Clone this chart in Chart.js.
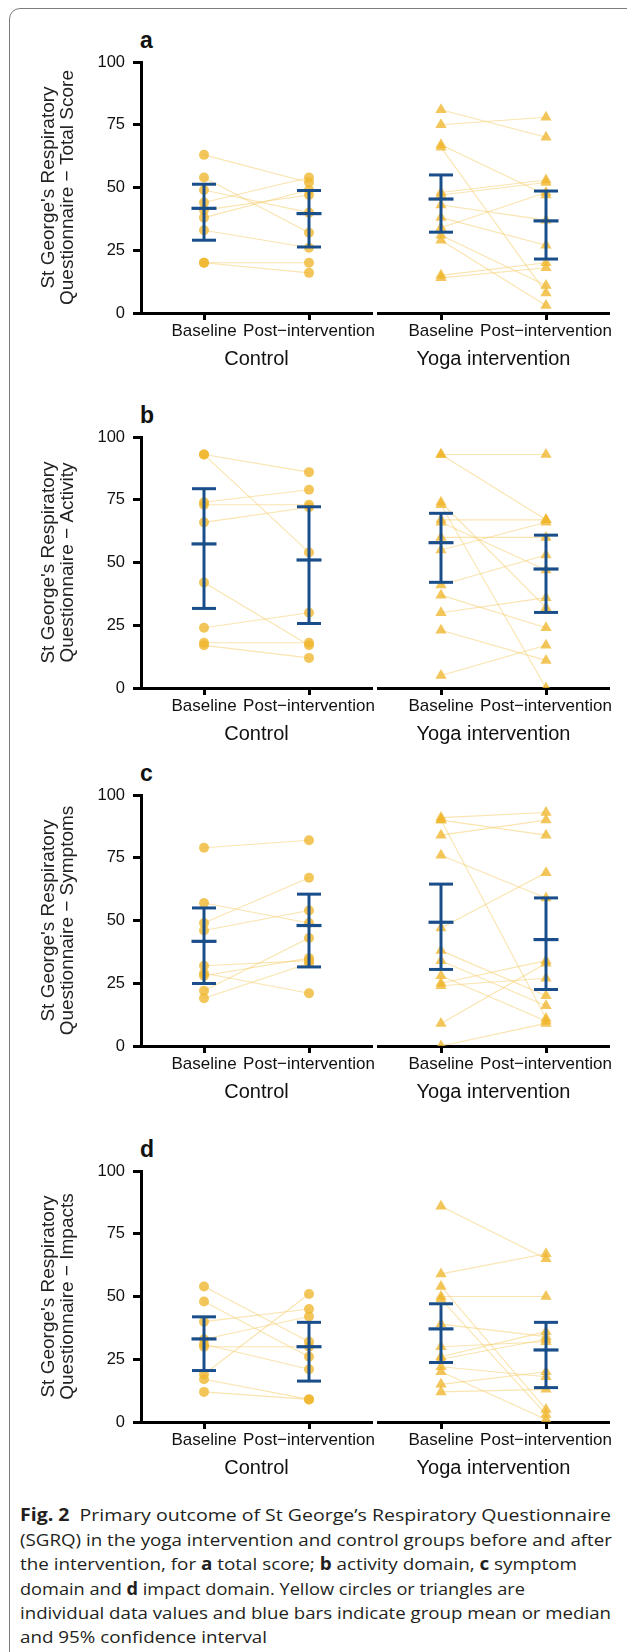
<!DOCTYPE html>
<html><head><meta charset="utf-8">
<script src="https://cdn.jsdelivr.net/npm/chart.js@4.4.0/dist/chart.umd.min.js"></script>
<style>
html,body{margin:0;padding:0;background:#fff;}
body{width:627px;height:1652px;position:relative;overflow:hidden;font-family:"Liberation Sans",Arial,sans-serif;}
#frame{position:absolute;left:9px;top:8px;width:660px;height:1690px;border:1.3px solid #7d7d7d;border-radius:11px;box-sizing:border-box;}
canvas.cv{position:absolute;left:0;}
.plab{position:absolute;left:140px;font:bold 23px/23px "Liberation Sans",Arial,sans-serif;color:#111;}
.cap{position:absolute;left:20px;white-space:nowrap;font-family:"Open Sans",sans-serif;font-size:17px;line-height:24px;color:#231f20;transform-origin:0 50%;}
.cap b{font-weight:700;}
</style></head><body>
<div id="frame"></div>
<div id="caption">
<div class="cap" data-w="591"><b>Fig. 2</b>&nbsp; Primary outcome of St George’s Respiratory Questionnaire</div>
<div class="cap" data-w="592">(SGRQ) in the yoga intervention and control groups before and after</div>
<div class="cap" data-w="557">the intervention, for <b>a</b> total score; <b>b</b> activity domain, <b>c</b> symptom</div>
<div class="cap" data-w="505">domain and <b>d</b> impact domain. Yellow circles or triangles are</div>
<div class="cap" data-w="591">individual data values and blue bars indicate group mean or median</div>
<div class="cap" data-w="247">and 95% confidence interval</div>
</div>
<script>
// ---------- categories / ticks ----------
const groups = ['Control', 'Yoga intervention'];
const timepoints = ['Baseline', 'Post\u2212intervention'];
const xPos = [1, 2];
const yTicks = [0, 25, 50, 75, 100];
const panelLetters = ['a', 'b', 'c', 'd'];
const yTitleLine1 = "St George's Respiratory";
const yTitleLine2 = ['Questionnaire \u2212 Total Score', 'Questionnaire \u2212 Activity', 'Questionnaire \u2212 Symptoms', 'Questionnaire \u2212 Impacts'];

// ---------- (a) total score ----------
const totalCtlBase  = [63, 54, 49, 44, 41, 38, 33, 20, 20];
const totalCtlPost  = [52, 32, 40, 54, 47, 49, 26, 20, 16];
const totalYogaBase = [81, 75, 67, 66, 48, 47, 43, 38, 34, 31, 29, 15, 14];
const totalYogaPost = [70, 78, 47, 8, 53, 52, 37, 27, 48, 11, 3, 20, 18];
const totalCtlMean = [41.7, 39.6], totalCtlLo = [29.0, 26.3], totalCtlHi = [51.3, 48.8];
const totalYogaMean = [45.4, 36.7], totalYogaLo = [32.2, 21.5], totalYogaHi = [55.0, 48.6];

// ---------- (b) activity ----------
const actCtlBase  = [93, 93, 74, 73, 66, 42, 24, 18, 17];
const actCtlPost  = [86, 54, 79, 73, 72, 17, 30, 18, 12];
const actYogaBase = [93, 93, 74, 73, 67, 66, 60, 55, 41, 37, 30, 23, 5];
const actYogaPost = [93, 67, 32, 0, 67, 47, 60, 66, 53, 24, 36, 11, 17];
const actCtlMean = [57.4, 51.0], actCtlLo = [31.7, 25.7], actCtlHi = [79.4, 72.2];
const actYogaMean = [57.9, 47.4], actYogaLo = [42.1, 30.1], actYogaHi = [69.6, 60.9];

// ---------- (c) symptoms ----------
const sympCtlBase  = [79, 57, 49, 46, 32, 29, 28, 22, 19];
const sympCtlPost  = [82, 49, 67, 54, 34, 21, 35, 43, 33];
const sympYogaBase = [91, 90, 90, 84, 76, 47, 38, 34, 28, 25, 24, 9, 0];
const sympYogaPost = [93, 84, 11, 90, 59, 69, 20, 16, 10, 34, 27, 33, 9];
const sympCtlMean = [41.7, 48.0], sympCtlLo = [24.9, 31.5], sympCtlHi = [55.0, 60.5];
const sympYogaMean = [49.3, 42.4], sympYogaLo = [30.5, 22.5], sympYogaHi = [64.5, 59.0];

// ---------- (d) impacts ----------
const impCtlBase  = [54, 48, 40, 33, 31, 30, 19, 17, 12];
const impCtlPost  = [32, 26, 45, 42, 21, 30, 51, 9, 9];
const impYogaBase = [86, 59, 54, 50, 49, 39, 30, 26, 25, 22, 20, 15, 12];
const impYogaPost = [65, 67, 5, 50, 3, 34, 32, 36, 33, 18, 1, 20, 13];
const impCtlMean = [33.1, 30.0], impCtlLo = [20.5, 16.3], impCtlHi = [41.9, 39.7];
const impYogaMean = [37.1, 28.7], impYogaLo = [23.7, 13.7], impYogaHi = [47.1, 39.7];

const panelData = [
  {base: [totalCtlBase, totalYogaBase], post: [totalCtlPost, totalYogaPost], mean: [totalCtlMean, totalYogaMean], lo: [totalCtlLo, totalYogaLo], hi: [totalCtlHi, totalYogaHi]},
  {base: [actCtlBase, actYogaBase], post: [actCtlPost, actYogaPost], mean: [actCtlMean, actYogaMean], lo: [actCtlLo, actYogaLo], hi: [actCtlHi, actYogaHi]},
  {base: [sympCtlBase, sympYogaBase], post: [sympCtlPost, sympYogaPost], mean: [sympCtlMean, sympYogaMean], lo: [sympCtlLo, sympYogaLo], hi: [sympCtlHi, sympYogaHi]},
  {base: [impCtlBase, impYogaBase], post: [impCtlPost, impYogaPost], mean: [impCtlMean, impYogaMean], lo: [impCtlLo, impYogaLo], hi: [impCtlHi, impYogaHi]}
];

// ---------- layout / style ----------
const panelTop100 = [62, 437, 795, 1171]; // page y of the 100 gridline
const PAD_TOP = 30, PLOT_H = 251, XAX_H = 70, CANVAS_H = 352;
const FAM = '"Liberation Sans", Arial, sans-serif';
const BLUE = '#1a4e8a';
const YEL = 'rgba(240,182,45,0.78)';
const YEL_LINE = 'rgba(246,205,110,0.55)';
const INK = '#111';

function buildDatasets(pi, gi) {
  const P = panelData[pi];
  const base = P.base[gi], post = P.post[gi];
  const mean = P.mean[gi], lo = P.lo[gi], hi = P.hi[gi];
  const ds = [];
  ds.push({data: xPos.map((x, i) => ({x, y: mean[i]})), showLine: false, pointStyle: 'line',
    pointRadius: 12.5, pointBorderWidth: 3.2, pointBorderColor: BLUE, clip: false});
  ds.push({data: xPos.map((x, i) => ({x, y: lo[i]})).concat(xPos.map((x, i) => ({x, y: hi[i]}))), showLine: false,
    pointStyle: 'line', pointRadius: 12, pointBorderWidth: 3, pointBorderColor: BLUE, clip: false});
  xPos.forEach((x, i) => ds.push({data: [{x, y: lo[i]}, {x, y: hi[i]}], showLine: true, borderColor: BLUE,
    borderWidth: 3, pointRadius: 0, clip: false}));
  ds.push({data: base.map(v => ({x: xPos[0], y: v})).concat(post.map(v => ({x: xPos[1], y: v}))), showLine: false,
    pointStyle: gi === 0 ? 'circle' : 'triangle', pointRadius: gi === 0 ? 5 : 6.5,
    pointBackgroundColor: YEL, pointBorderWidth: 0, pointBorderColor: 'rgba(0,0,0,0)', clip: 0});
  base.forEach((b, i) => ds.push({data: [{x: xPos[0], y: b}, {x: xPos[1], y: post[i]}], showLine: true,
    borderColor: YEL_LINE, borderWidth: 1.1, pointRadius: 0, clip: 0}));
  return ds;
}

function makeChart(pi, gi) {
  const cv = document.createElement('canvas');
  cv.className = 'cv';
  cv.width = 627; cv.height = CANVAS_H;
  cv.style.width = '627px'; cv.style.height = CANVAS_H + 'px';
  cv.style.top = (panelTop100[pi] - PAD_TOP) + 'px';
  document.body.appendChild(cv);
  new Chart(cv.getContext('2d'), {
    type: 'scatter',
    data: {datasets: buildDatasets(pi, gi)},
    options: {
      animation: false, responsive: false, events: [], devicePixelRatio: 1,
      layout: {padding: {left: gi ? 378 : 0, right: gi ? 18 : 255, top: PAD_TOP, bottom: CANVAS_H - PAD_TOP - PLOT_H - XAX_H}},
      plugins: {legend: {display: false}, tooltip: {enabled: false}},
      scales: {
        x: {
          type: 'linear', min: 0.4, max: 2.6,
          afterBuildTicks: s => { s.ticks = xPos.map(v => ({value: v})); },
          afterFit: s => { s.height = XAX_H; s.paddingLeft = 0; s.paddingRight = 0; },
          ticks: {callback: v => timepoints[xPos.indexOf(v)], autoSkip: false, maxRotation: 0, minRotation: 0,
            padding: 1, color: INK, font: {family: FAM, size: 17}},
          grid: {drawOnChartArea: false, drawTicks: true, tickLength: 7, tickWidth: 3, tickColor: '#000'},
          border: {display: true, width: 3, color: '#000'},
          title: {display: true, text: groups[gi], color: INK, font: {family: FAM, size: 20, lineHeight: 1.2},
            padding: {top: 0, bottom: 12}}
        },
        y: {
          display: gi === 0, min: 0, max: 100,
          afterBuildTicks: s => { s.ticks = yTicks.map(v => ({value: v})); },
          afterFit: s => { s.width = gi === 0 ? 141 : 0; s.paddingTop = 0; s.paddingBottom = 0; },
          ticks: {padding: 8, color: INK, font: {family: FAM, size: 16.5}},
          grid: {drawOnChartArea: false, drawTicks: true, tickLength: 8, tickWidth: 3, tickColor: '#000'},
          border: {display: true, width: 3, color: '#000'},
          title: {display: true, text: [yTitleLine1, yTitleLine2[pi]], color: '#222',
            font: {family: FAM, size: 19, lineHeight: 1}, padding: {top: 39.5, bottom: 0}}
        }
      }
    }
  });
}

panelLetters.forEach((L, pi) => {
  const d = document.createElement('div');
  d.className = 'plab';
  d.textContent = L;
  d.style.top = (panelTop100[pi] - 14 - 19.5) + 'px';
  document.body.appendChild(d);
  makeChart(pi, 0);
  makeChart(pi, 1);
});

// caption lines
const capCenters = [1516, 1540.5, 1565, 1589.5, 1614, 1638];
function layoutCaption() {
  document.querySelectorAll('.cap').forEach((el, i) => {
    el.style.top = (capCenters[i] - 13) + 'px';
    el.style.transform = 'none';
    const w = el.getBoundingClientRect().width;
    const target = +el.dataset.w;
    el.style.transform = 'scaleX(' + (target / w).toFixed(4) + ')';
  });
}
layoutCaption();
if (document.fonts && document.fonts.ready) document.fonts.ready.then(layoutCaption);
</script>
</body></html>
